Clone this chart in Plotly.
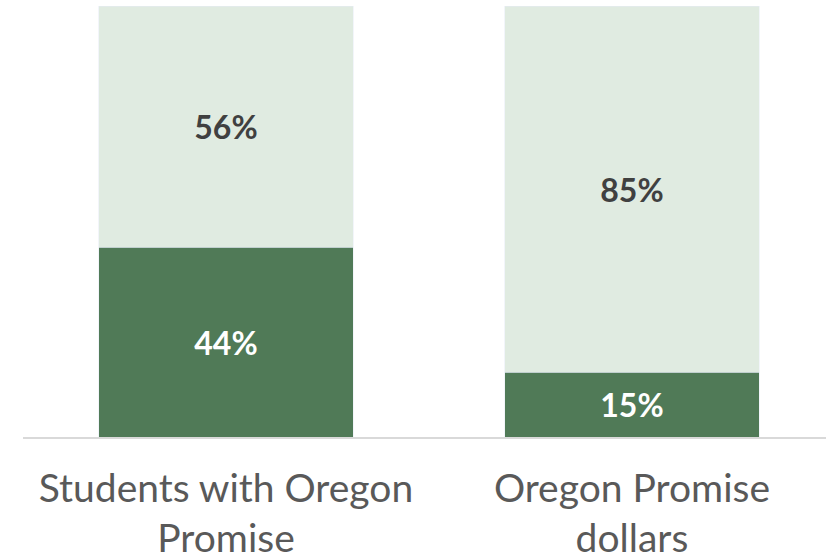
import plotly.graph_objects as go

categories = ["Students with Oregon<br>Promise", "Oregon Promise<br>dollars"]
with_promise = [44, 15]
without_promise = [56, 85]

fig = go.Figure()
fig.add_trace(go.Bar(
    x=categories, y=with_promise, marker_color="#507A57", width=0.626,
    text=[f"{v}%" for v in with_promise], textposition="inside",
    insidetextanchor="middle", textangle=0, constraintext="none",
    textfont=dict(family="Lato", size=32, color="white", weight="bold"),
))
fig.add_trace(go.Bar(
    x=categories, y=without_promise, marker_color="#E0EBE1", width=0.626,
    text=[f"{v}%" for v in without_promise], textposition="inside",
    insidetextanchor="middle", textangle=0, constraintext="none",
    textfont=dict(family="Lato", size=32, color="#404040", weight="bold"),
))
fig.update_layout(
    barmode="stack", width=826, height=559, showlegend=False,
    margin=dict(l=23, r=0, t=6, b=122, autoexpand=False),
    paper_bgcolor="white", plot_bgcolor="white",
    xaxis=dict(range=[-0.5, 1.478], showline=True, linecolor="#D9D9D9", linewidth=1.5,
               ticks="", showgrid=False, automargin=False,
               tickfont=dict(family="Lato", size=39, color="#595959"),
               ticklabelstandoff=16),
    yaxis=dict(range=[0, 100], visible=False, showgrid=False, automargin=False),
)
fig.write_html("out.html", config={"displayModeBar": False},
               post_script="document.body.style.margin='0';")
